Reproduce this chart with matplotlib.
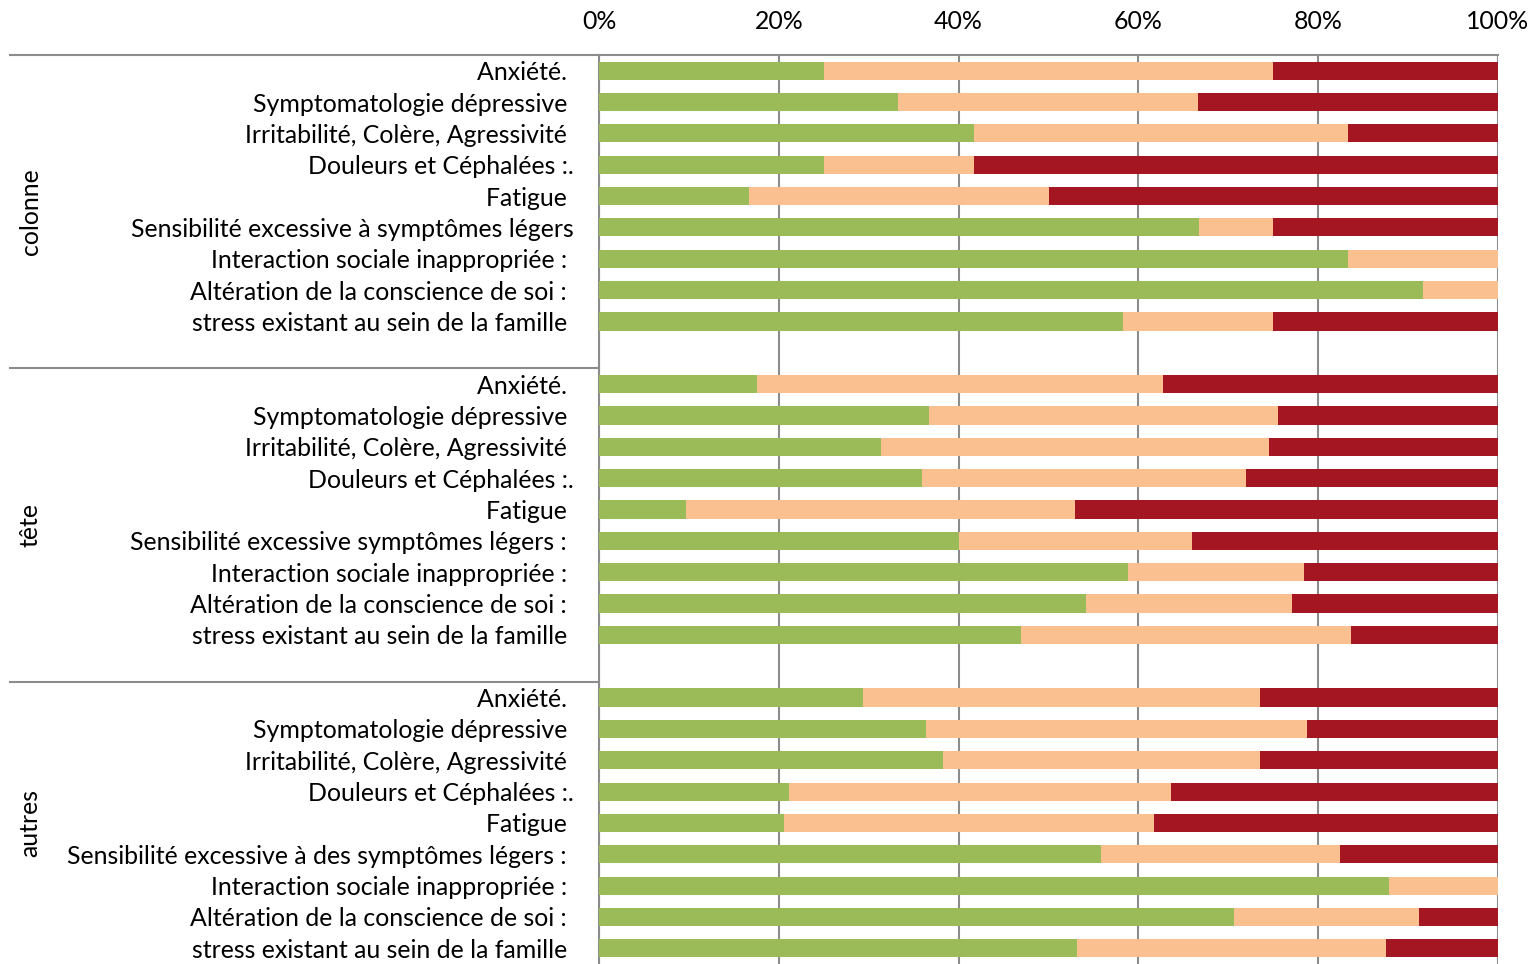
import numpy as np
import matplotlib.pyplot as plt
import matplotlib.transforms as mtransforms

plt.rcParams['font.family'] = ['Lato', 'DejaVu Sans']

groups = ["colonne", "tête", "autres"]
group_centers = [4.5, 14.5, 24.0]

labels_colonne = ["Anxiété. ", "Symptomatologie dépressive ", "Irritabilité, Colère, Agressivité ",
                  "Douleurs et Céphalées :.", "Fatigue ", "Sensibilité excessive à symptômes légers",
                  "Interaction sociale inappropriée : ", "Altération de la conscience de soi : ",
                  "stress existant au sein de la famille "]
labels_tete = ["Anxiété. ", "Symptomatologie dépressive ", "Irritabilité, Colère, Agressivité ",
               "Douleurs et Céphalées :.", "Fatigue ", "Sensibilité excessive symptômes légers : ",
               "Interaction sociale inappropriée : ", "Altération de la conscience de soi : ",
               "stress existant au sein de la famille "]
labels_autres = ["Anxiété. ", "Symptomatologie dépressive ", "Irritabilité, Colère, Agressivité ",
                 "Douleurs et Céphalées :.", "Fatigue ", "Sensibilité excessive à des symptômes légers : ",
                 "Interaction sociale inappropriée : ", "Altération de la conscience de soi : ",
                 "stress existant au sein de la famille "]

# percentages: green / orange / red
green_colonne = [25.0, 33.3, 41.7, 25.0, 16.7, 66.7, 83.3, 91.7, 58.3]
orange_colonne = [50.0, 33.3, 41.6, 16.7, 33.3, 8.3, 16.7, 8.3, 16.7]
red_colonne = [25.0, 33.4, 16.7, 58.3, 50.0, 25.0, 0.0, 0.0, 25.0]

green_tete = [17.6, 36.7, 31.4, 35.9, 9.7, 40.0, 58.8, 54.2, 46.9]
orange_tete = [45.1, 38.8, 43.1, 36.1, 43.2, 26.0, 19.6, 22.9, 36.8]
red_tete = [37.3, 24.5, 25.5, 28.0, 47.1, 34.0, 21.6, 22.9, 16.3]

green_autres = [29.4, 36.4, 38.3, 21.1, 20.6, 55.8, 87.9, 70.6, 53.2]
orange_autres = [44.1, 42.4, 35.2, 42.5, 41.1, 26.6, 12.1, 20.6, 34.3]
red_autres = [26.5, 21.2, 26.5, 36.4, 38.3, 17.6, 0.0, 8.8, 12.5]

c_green = "#9BBB59"
c_orange = "#FAC090"
c_red = "#A31622"

labels_all = [labels_colonne, labels_tete, labels_autres]
greens = [green_colonne, green_tete, green_autres]
oranges = [orange_colonne, orange_tete, orange_autres]
reds = [red_colonne, red_tete, red_autres]

fig = plt.figure(figsize=(15.31, 9.64), dpi=100)
ax = fig.add_axes([599 / 1531, 0.0, 899 / 1531, 1 - 55 / 964])

ypos, ylabels = [], []
for g in range(3):
    y = np.arange(9) + g * 10
    gr = np.array(greens[g])
    orr = np.array(oranges[g])
    rd = np.array(reds[g])
    ax.barh(y, gr, height=0.58, color=c_green, zorder=3)
    ax.barh(y, orr, left=gr, height=0.58, color=c_orange, zorder=3)
    ax.barh(y, rd, left=gr + orr, height=0.58, color=c_red, zorder=3)
    ypos += list(y)
    ylabels += labels_all[g]

fs = 17.9
ax.set_xlim(0, 100)
ax.set_ylim(28.5, -0.5)
ax.set_yticks(ypos)
ax.set_yticklabels(ylabels, fontsize=fs)
ax.set_xticks(np.arange(0, 101, 20))
ax.set_xticklabels([f"{v}%" for v in range(0, 101, 20)], fontsize=fs)
ax.xaxis.tick_top()
ax.tick_params(axis='both', length=0)
ax.tick_params(axis='y', pad=18.5)
ax.tick_params(axis='x', pad=16)
ax.grid(axis='x', color='#8C8C8C', linewidth=1.5, zorder=0)

for side in ['right', 'bottom']:
    ax.spines[side].set_visible(False)
for side in ['top', 'left']:
    ax.spines[side].set_color('#8C8C8C')
    ax.spines[side].set_linewidth(1.5)

# group separators and names on the left
trans = mtransforms.blended_transform_factory(ax.transAxes, ax.transData)
x_left = (10 - 599) / 899
for g, name in enumerate(groups):
    ax.plot([x_left, 0], [g * 10 - 0.5, g * 10 - 0.5], color='#8C8C8C', linewidth=1.5,
            transform=trans, clip_on=False)
    ax.text((30 - 599) / 899, group_centers[g], name, rotation=90, ha='center', va='center',
            fontsize=fs, transform=trans)

fig.savefig("out.png", dpi=100)
